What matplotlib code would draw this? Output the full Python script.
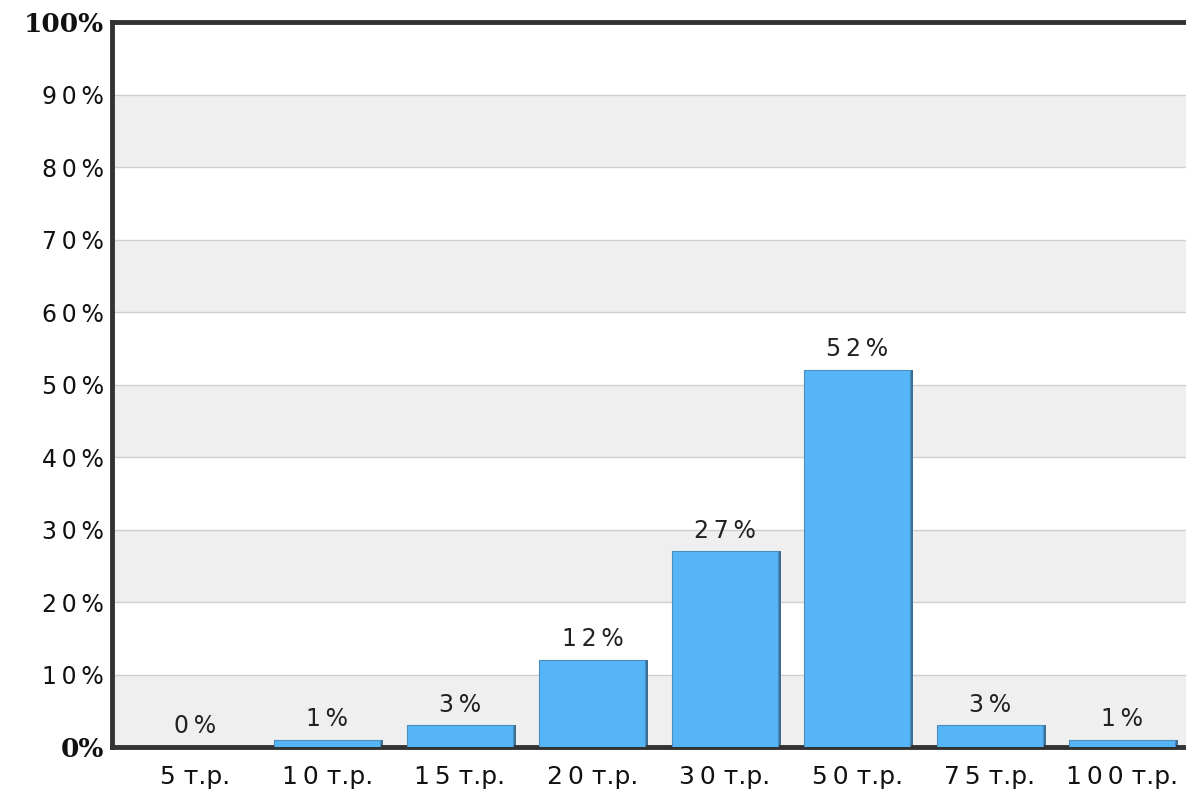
import matplotlib.pyplot as plt
import numpy as np

categories = ['5 т.р.', '10 т.р.', '15 т.р.', '20 т.р.', '30 т.р.', '50 т.р.', '75 т.р.', '100 т.р.']
values = [0, 1, 3, 12, 27, 52, 3, 1]
y_ticks = [0, 10, 20, 30, 40, 50, 60, 70, 80, 90, 100]

SP = '\u2009'


def spaced(s):
    # mimic the wide letter spacing of the original
    return SP.join(s)


def spaced_cat(c):
    num, unit = c.split(' ', 1)
    return spaced(num) + ' ' + unit


fig = plt.figure(figsize=(11.86, 8.06), dpi=100)
ax = fig.add_axes([0.0944, 0.0732, 0.9056, 0.8995])

x = np.arange(len(categories))

# alternating bands
for lo in range(0, 100, 20):
    ax.axhspan(lo, lo + 10, color='#efefef', zorder=0, lw=0)
for y in y_ticks[1:-1]:
    ax.axhline(y, color='#cfcfcf', lw=1, zorder=1)

# shadow then bars
ax.bar(x + 0.02, values, 0.8, bottom=0, color='#3d6f94', zorder=2)
ax.bar(x, values, 0.8, color='#56b5f6', edgecolor='#4a8ec0', lw=0.8, zorder=3)

for xi, v in zip(x, values):
    ax.text(xi, v + 1.2, spaced(f'{v}%'), ha='center', va='bottom', fontsize=17,
            color='#222222', zorder=4)

ax.set_xlim(-0.626, 7.48)
ax.set_ylim(0, 100)
ax.set_xticks(x)
ax.set_xticklabels([spaced_cat(c) for c in categories], fontsize=18, color='#111111')
ax.set_yticks(y_ticks)
ylabels = [spaced(f'{t}%') for t in y_ticks]
ylabels[0] = '0%'
ylabels[-1] = '100%'
ax.set_yticklabels(ylabels, fontsize=17, color='#111111')
for lbl in (ax.get_yticklabels()[0], ax.get_yticklabels()[-1]):
    lbl.set_fontweight('bold')
    lbl.set_family('DejaVu Serif')
    lbl.set_fontsize(19)
ax.tick_params(length=0, pad=6)
ax.tick_params(axis='x', pad=13)

for side in ['left', 'bottom', 'top']:
    ax.spines[side].set_linewidth(3.5)
    ax.spines[side].set_color('#333333')
ax.spines['right'].set_visible(False)

fig.savefig('out.png', dpi=100)
